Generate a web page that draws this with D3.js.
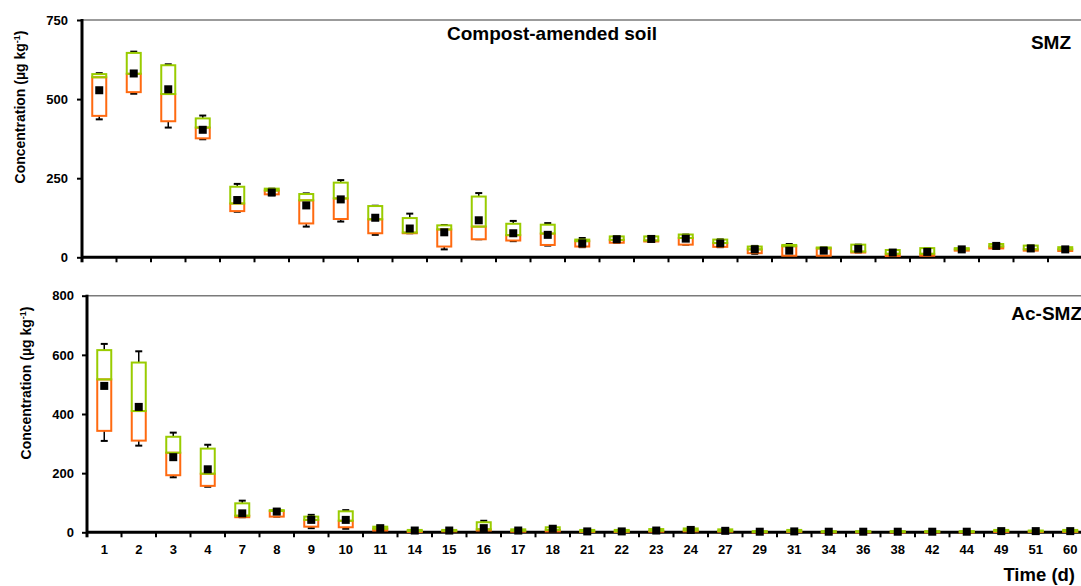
<!DOCTYPE html>
<html>
<head>
<meta charset="utf-8">
<script src="https://cdn.jsdelivr.net/npm/d3@7"></script>
<style>
  body { margin: 0; background: #fff; }
  svg { font-family: "Liberation Sans", Arial, sans-serif; }
  text { font-weight: bold; fill: #000; }
</style>
</head>
<body>
<svg id="chart" width="1081" height="586"></svg>
<script>
// sampling days (categories)
const days = [1, 2, 3, 4, 7, 8, 9, 10, 11, 14, 15, 16, 17, 18, 21, 22, 23, 24, 27, 29, 31, 34, 36, 38, 42, 44, 49, 51, 60];

// SMZ, compost-amended soil (µg/kg)
const smzMin  = [436, 517, 410, 373, 144, 196, 97, 113, 71, 76, 25, 57, 51, 37, 32, 46, 50, 40, 32, 11, 5, 5, 15, 4, 5, 21, 28, 21, 20];
const smzQ1   = [447, 522, 430, 376, 146, 199, 107, 121, 76, 76, 34, 57, 53, 39, 34, 46, 50, 40, 33, 13, 5, 5, 15, 4, 5, 21, 28, 21, 20];
const smzMed  = [569, 580, 516, 410, 170, 211, 180, 186, 120, 78, 88, 97, 70, 75, 51, 55, 53, 61, 45, 25, 35, 28, 18, 11, 11, 25, 34, 25, 25];
const smzQ3   = [579, 646, 607, 439, 223, 217, 200, 236, 162, 124, 101, 192, 106, 103, 56, 66, 66, 72, 56, 34, 39, 31, 40, 23, 29, 29, 42, 37, 32];
const smzMax  = [582, 650, 610, 448, 232, 217, 202, 244, 163, 138, 102, 203, 115, 108, 61, 66, 66, 72, 57, 36, 42, 31, 40, 23, 29, 29, 42, 37, 32];
const smzMean = [528, 581, 531, 403, 181, 205, 164, 183, 125, 91, 79, 117, 76, 71, 44, 57, 58, 59, 44, 25, 21, 21, 27, 15, 17, 25, 36, 28, 25];

// Ac-SMZ (µg/kg)
const acMin  = [309, 293, 186, 154, 51, 53, 14, 12, 4, 0, 2, 4, 1, 2, 1, 1, 2, 3, 1, 0, 1, 0, 0, 0, 0, 0, 1, 1, 1];
const acQ1   = [343, 310, 193, 157, 51, 53, 19, 17, 6, 1, 3, 6, 2, 3, 1, 1, 2, 3, 2, 0, 1, 0, 0, 0, 0, 0, 1, 1, 1];
const acMed  = [517, 410, 269, 198, 56, 72, 42, 39, 12, 4, 5, 10, 5, 8, 3, 3, 5, 6, 4, 1, 3, 1, 1, 1, 1, 1, 4, 3, 3];
const acQ3   = [616, 574, 323, 283, 98, 75, 53, 71, 19, 8, 8, 34, 10, 17, 8, 8, 11, 13, 10, 4, 8, 4, 4, 4, 4, 4, 8, 6, 8];
const acMax  = [637, 612, 337, 296, 107, 79, 59, 75, 20, 8, 8, 39, 10, 19, 8, 8, 11, 13, 10, 4, 8, 4, 4, 4, 4, 4, 8, 6, 8];
const acMean = [495, 424, 254, 213, 64, 70, 42, 42, 14, 6, 6, 14, 6, 12, 3, 3, 6, 8, 5, 2, 3, 2, 2, 2, 2, 2, 4, 4, 4];

const smzTicks = [0, 250, 500, 750];
const acTicks = [0, 200, 400, 600, 800];

const green = "#99cc00";
const orange = "#ff6a10";
const band = 34.5;

const svg = d3.select("#chart");

function panel(opts) {
    const g = svg.append("g");
    const x = d3.scaleBand().domain(days).range([opts.left, opts.left + band * days.length]).padding(0);
    const y = d3.scaleLinear().domain([0, opts.max]).range([opts.bottom, opts.top]);
    const rows = days.map((d, i) => ({
        day: d, min: opts.min[i], q1: opts.q1[i], med: opts.med[i],
        q3: opts.q3[i], max: opts.maxv[i], mean: opts.mean[i]
    }));

    // top frame line
    g.append("line")
        .attr("x1", opts.left).attr("x2", 1081)
        .attr("y1", y(opts.max)).attr("y2", y(opts.max))
        .style("stroke", "#7a7a7a").style("stroke-width", 1.5);

    // y axis ticks + labels
    const yAxis = g.append("g")
        .attr("transform", `translate(${opts.left},0)`)
        .call(d3.axisLeft(y).tickValues(opts.ticks).tickSize(5).tickPadding(opts.pad));
    yAxis.select(".domain").remove();
    yAxis.selectAll(".tick line").style("stroke", "#000").style("stroke-width", 2);
    yAxis.selectAll(".tick text").style("font-size", "13px").style("font-family", "inherit");

    // x ticks on category boundaries
    g.selectAll(".xt")
        .data(days.slice(1))
        .enter().append("line")
        .attr("x1", d => x(d)).attr("x2", d => x(d))
        .attr("y1", opts.bottom).attr("y2", opts.bottom + 5)
        .style("stroke", "#000").style("stroke-width", 2);

    // axis lines
    g.append("line")
        .attr("x1", opts.left).attr("x2", 1081)
        .attr("y1", opts.bottom).attr("y2", opts.bottom)
        .style("stroke", "#000").style("stroke-width", 3);
    g.append("line")
        .attr("x1", opts.left).attr("x2", opts.left)
        .attr("y1", y(opts.max) - 1).attr("y2", opts.bottom + 5)
        .style("stroke", "#000").style("stroke-width", 3);

    const c = d => x(d.day) + x.bandwidth() / 2;
    const bw = 14;

    // whiskers
    const wk = g.selectAll(".wk").data(rows).enter().append("g");
    wk.append("line")
        .attr("x1", c).attr("x2", c)
        .attr("y1", d => y(d.max)).attr("y2", d => y(d.q3))
        .style("stroke", "#000").style("stroke-width", 1.5);
    wk.append("line")
        .attr("x1", d => c(d) - 3.5).attr("x2", d => c(d) + 3.5)
        .attr("y1", d => y(d.max)).attr("y2", d => y(d.max))
        .style("stroke", "#000").style("stroke-width", 2);
    wk.append("line")
        .attr("x1", c).attr("x2", c)
        .attr("y1", d => y(d.min)).attr("y2", d => y(d.q1))
        .style("stroke", "#000").style("stroke-width", 1.5);
    wk.append("line")
        .attr("x1", d => c(d) - 3.5).attr("x2", d => c(d) + 3.5)
        .attr("y1", d => y(d.min)).attr("y2", d => y(d.min))
        .style("stroke", "#000").style("stroke-width", 2);

    // lower box (q1 - median)
    g.selectAll(".lo").data(rows).enter().append("rect")
        .attr("x", d => c(d) - bw / 2).attr("width", bw)
        .attr("y", d => y(d.med)).attr("height", d => Math.max(0.5, y(d.q1) - y(d.med)))
        .style("fill", "#fff").style("stroke", orange).style("stroke-width", 2);
    // upper box (median - q3)
    g.selectAll(".hi").data(rows).enter().append("rect")
        .attr("x", d => c(d) - bw / 2).attr("width", bw)
        .attr("y", d => y(d.q3)).attr("height", d => Math.max(0.5, y(d.med) - y(d.q3)))
        .style("fill", "none").style("stroke", green).style("stroke-width", 2);

    // mean
    g.selectAll(".mn").data(rows).enter().append("rect")
        .attr("x", d => c(d) - 4).attr("y", d => y(d.mean) - 4)
        .attr("width", 8).attr("height", 8)
        .style("fill", "#000");

    // y title
    const yt = g.append("text")
        .attr("transform", `translate(${opts.titleX},${opts.titleY}) rotate(-90)`)
        .attr("text-anchor", "middle")
        .style("font-size", "14px");
    yt.append("tspan").text("Concentration (µg kg");
    yt.append("tspan").text("-1").attr("baseline-shift", "super").style("font-size", "9px");
    yt.append("tspan").text(")");

    // panel label
    g.append("text")
        .attr("x", opts.labelX).attr("y", opts.labelY)
        .attr("text-anchor", "end")
        .style("font-size", "19px")
        .text(opts.label);

    return { g, x, y };
}

panel({
    left: 82, top: 20, bottom: 257.3, max: 750, ticks: smzTicks, pad: 9,
    min: smzMin, q1: smzQ1, med: smzMed, q3: smzQ3, maxv: smzMax, mean: smzMean,
    titleX: 25, titleY: 107, label: "SMZ", labelX: 1071, labelY: 49
});

const bottomPanel = panel({
    left: 87, top: 295.7, bottom: 532.3, max: 800, ticks: acTicks, pad: 8,
    min: acMin, q1: acQ1, med: acMed, q3: acQ3, maxv: acMax, mean: acMean,
    titleX: 31, titleY: 383, label: "Ac-SMZ", labelX: 1082, labelY: 320
});

// x tick labels on the lower panel
svg.selectAll(".xl")
    .data(days)
    .enter().append("text")
    .attr("x", d => bottomPanel.x(d) + bottomPanel.x.bandwidth() / 2)
    .attr("y", 554)
    .attr("text-anchor", "middle")
    .style("font-size", "13px")
    .text(d => d);

svg.append("text")
    .attr("x", 552).attr("y", 40)
    .attr("text-anchor", "middle")
    .style("font-size", "19px")
    .text("Compost-amended soil");

svg.append("text")
    .attr("x", 1075).attr("y", 581)
    .attr("text-anchor", "end")
    .style("font-size", "18.5px")
    .text("Time (d)");
</script>
</body>
</html>
